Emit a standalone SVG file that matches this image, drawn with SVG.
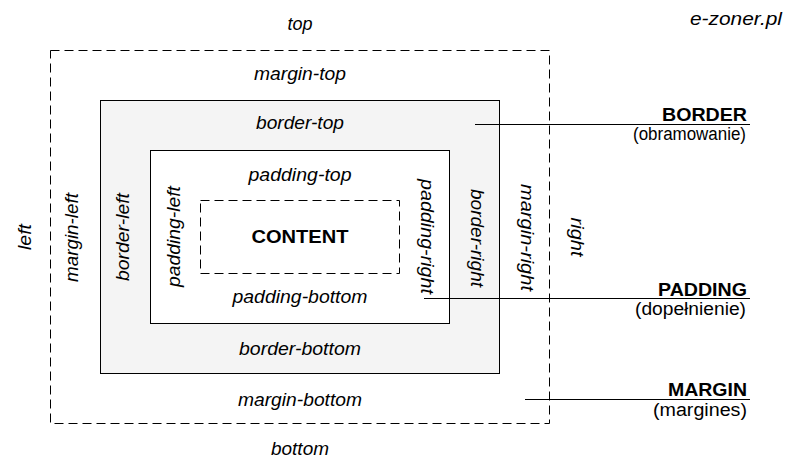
<svg xmlns="http://www.w3.org/2000/svg" width="800" height="475" viewBox="0 0 800 475">
<style>
.box{stroke:#000;stroke-width:1}
.dash{fill:none;stroke-dasharray:9 5}
.lbl{font-family:"Liberation Sans",Arial,sans-serif;font-size:18px;font-style:italic;fill:#000;text-anchor:middle}
.leg{font-family:"Liberation Sans",Arial,sans-serif;font-size:18px;fill:#000;text-anchor:end}
.legb{font-weight:bold}
.ln{stroke:#000;stroke-width:1;fill:none}
</style>
<rect width="800" height="475" fill="#fff"/>
<g id="margin">
<rect class="box dash" x="50.5" y="50.5" width="499" height="373"/>
</g>
<g id="border">
<rect class="box" x="100.5" y="100.5" width="399" height="273" fill="#f4f4f4"/>
</g>
<g id="padding">
<rect class="box" x="150.5" y="150.5" width="299" height="173" fill="#fff"/>
</g>
<g id="content">
<rect class="box dash" x="200.5" y="200.5" width="199" height="73"/>
<text x="300" y="243" font-family="'Liberation Sans',Arial,sans-serif" font-size="19" font-weight="bold" text-anchor="middle" textLength="97" lengthAdjust="spacingAndGlyphs">CONTENT</text>
</g>
<g id="labels">
<text class="lbl" x="300" y="30" textLength="25" lengthAdjust="spacingAndGlyphs">top</text>
<text class="lbl" x="300" y="80" textLength="92" lengthAdjust="spacingAndGlyphs">margin-top</text>
<text class="lbl" x="300" y="129" textLength="88" lengthAdjust="spacingAndGlyphs">border-top</text>
<text class="lbl" x="300" y="181" textLength="103" lengthAdjust="spacingAndGlyphs">padding-top</text>
<text class="lbl" x="300" y="303" textLength="135" lengthAdjust="spacingAndGlyphs">padding-bottom</text>
<text class="lbl" x="300" y="355" textLength="122" lengthAdjust="spacingAndGlyphs">border-bottom</text>
<text class="lbl" x="300" y="406" textLength="124" lengthAdjust="spacingAndGlyphs">margin-bottom</text>
<text class="lbl" x="300" y="455" textLength="58" lengthAdjust="spacingAndGlyphs">bottom</text>
<text class="lbl" x="782" y="25" style="text-anchor:end" textLength="92" lengthAdjust="spacingAndGlyphs">e-zoner.pl</text>
<text class="lbl" transform="translate(31,237) rotate(-90)" textLength="26" lengthAdjust="spacingAndGlyphs">left</text>
<text class="lbl" transform="translate(78,237.5) rotate(-90)" textLength="89" lengthAdjust="spacingAndGlyphs">margin-left</text>
<text class="lbl" transform="translate(129,237) rotate(-90)" textLength="88" lengthAdjust="spacingAndGlyphs">border-left</text>
<text class="lbl" transform="translate(180,236.5) rotate(-90)" textLength="101" lengthAdjust="spacingAndGlyphs">padding-left</text>
<text class="lbl" transform="translate(421,236.5) rotate(90)" textLength="115" lengthAdjust="spacingAndGlyphs">padding-right</text>
<text class="lbl" transform="translate(470.5,238) rotate(90)" textLength="98" lengthAdjust="spacingAndGlyphs">border-right</text>
<text class="lbl" transform="translate(520.5,237.5) rotate(90)" textLength="107" lengthAdjust="spacingAndGlyphs">margin-right</text>
<text class="lbl" transform="translate(570.5,237) rotate(90)" textLength="39" lengthAdjust="spacingAndGlyphs">right</text>
</g>
<g id="connectors">
<line class="ln" x1="475" y1="124.5" x2="750" y2="124.5"/>
<line class="ln" x1="424" y1="298.5" x2="750" y2="298.5"/>
<line class="ln" x1="525" y1="399.5" x2="750" y2="399.5"/>
</g>
<g id="legend-border">
<text class="leg legb" x="747" y="120.5" textLength="85" lengthAdjust="spacingAndGlyphs">BORDER</text>
<text class="leg" x="746" y="139.5" textLength="113" lengthAdjust="spacingAndGlyphs">(obramowanie)</text>
</g>
<g id="legend-padding">
<text class="leg legb" x="747" y="295.5" textLength="89" lengthAdjust="spacingAndGlyphs">PADDING</text>
<text class="leg" x="746" y="315" textLength="111" lengthAdjust="spacingAndGlyphs">(dopełnienie)</text>
</g>
<g id="legend-margin">
<text class="leg legb" x="747" y="396" textLength="79" lengthAdjust="spacingAndGlyphs">MARGIN</text>
<text class="leg" x="747" y="415.5" textLength="94" lengthAdjust="spacingAndGlyphs">(margines)</text>
</g>
</svg>
